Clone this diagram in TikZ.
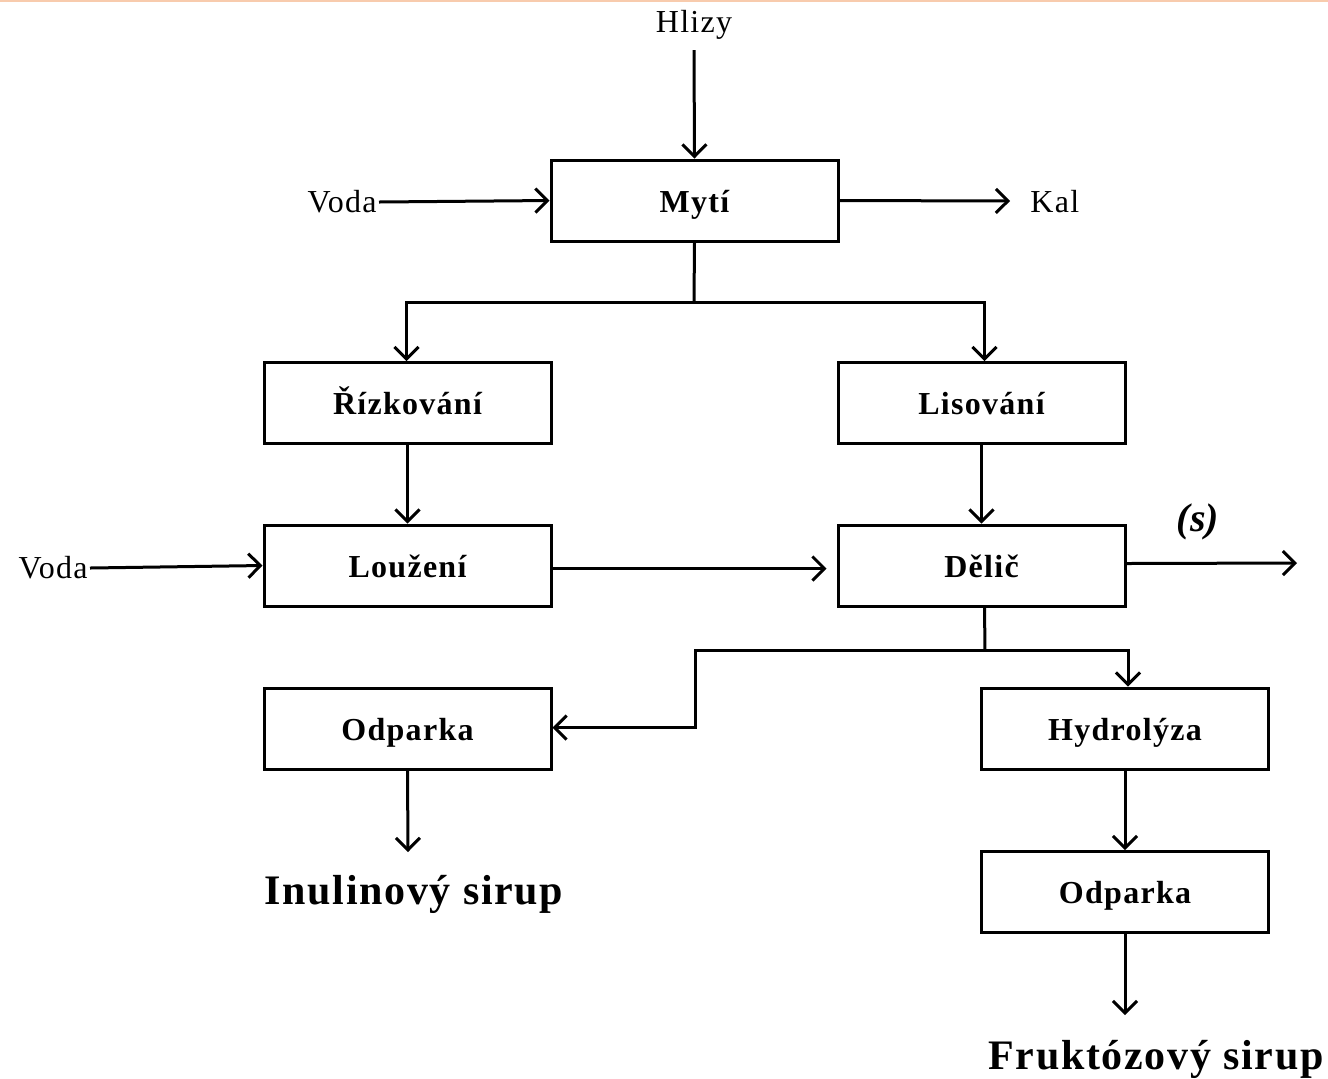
\documentclass[tikz,border=0pt]{standalone}
\usepackage{fontspec}
\setmainfont{Liberation Serif}
\newfontfamily\widefont[LetterSpace=4]{Liberation Serif}
\usetikzlibrary{arrows.meta}
\definecolor{topline}{RGB}{248,203,173}
\begin{document}
\begin{tikzpicture}[x=0.5pt,y=-0.5pt,
  box/.style={draw,line width=1.5pt,minimum width=143.5pt,minimum height=40.5pt,inner sep=0pt,text height=1.15em,text depth=0em,font=\widefont\fontsize{16}{18}\selectfont\bfseries},
  lab/.style={inner sep=1pt,font=\widefont\fontsize{16}{18}\selectfont},
  big/.style={inner sep=1pt,font=\widefont\fontsize{21}{24}\selectfont\bfseries},
  arr/.style={line width=1.5pt,-{Straight Barb[length=6pt,width=12pt,line width=1.5pt]}},
  ln/.style={line width=1.5pt}]
\useasboundingbox (0,0) rectangle (1328,1078);
\fill[topline] (0,0) rectangle (1328,2);
% boxes
\node[box] (myti) at (694.5,200.5) {Mytí};
\node[box] (rizk) at (407.5,403) {Řízkování};
\node[box] (lis) at (981.5,403) {Lisování};
\node[box] (louz) at (407.5,565.5) {Loužení};
\node[box] (delic) at (981.5,565.5) {Dělič};
\node[box] (odp1) at (407.5,728.5) {Odparka};
\node[box] (hydro) at (1125,728.5) {Hydrolýza};
\node[box] (odp2) at (1125,892) {Odparka};
% labels
\node[lab] (hlizy) at (694,25) {Hlizy};
\node[lab,anchor=east] (voda1) at (379,202) {Voda};
\node[lab,anchor=west] (kal) at (1028,202) {Kal};
\node[lab,anchor=east] (voda2) at (90,568) {Voda};
\node[inner sep=1pt,font=\fontsize{20}{22}\selectfont\bfseries\itshape] (s) at (1198,522) {(s)};
\node[big] (inul) at (414,894) {Inulinový sirup};
\node[big] (fruk) at (1156,1059) {Fruktózový sirup};
% coordinates
\coordinate (hlizyend) at (694,50);
\coordinate (kalend) at (1010,201);
\coordinate (split1) at (694,302);
\coordinate (sout) at (1297,563);
\coordinate (split2) at (985,650);
\coordinate (inulend) at (408,852);
\coordinate (frukend) at (1125,1015);
% connectors
\draw[arr] (hlizyend) -- (myti.north);
\draw[arr] (voda1.east) -- (myti.west);
\draw[arr] (myti.east) -- (kalend);
\draw[ln] (myti.south) -- (split1);
\draw[arr] (split1) -| ([xshift=-0.5pt]rizk.north);
\draw[arr] (split1) -| ([xshift=1.5pt]lis.north);
\draw[arr] (rizk.south) -- (louz.north);
\draw[arr] (lis.south) -- (delic.north);
\draw[arr] (voda2.east) -- (louz.west);
\draw[arr,shorten >=5pt] ([yshift=-1.5pt]louz.east) -- ([yshift=-1.5pt]delic.west);
\draw[arr] ([yshift=1pt]delic.east) -- (sout);
\draw[ln] ([xshift=1.5pt]delic.south) -- (split2);
\draw[arr] (split2) -| ([xshift=1.5pt]hydro.north);
\draw[arr] (split2) -- (695,650) |- ([yshift=0.5pt]odp1.east);
\draw[arr] (odp1.south) -- (inulend);
\draw[arr] (hydro.south) -- (odp2.north);
\draw[arr] (odp2.south) -- (frukend);
\end{tikzpicture}
\end{document}
